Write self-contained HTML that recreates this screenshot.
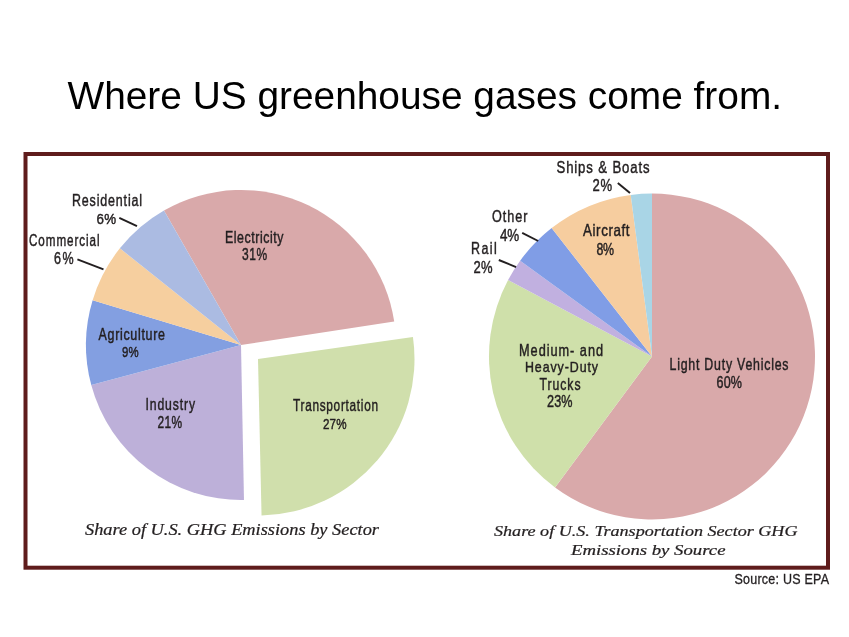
<!DOCTYPE html>
<html><head><meta charset="utf-8"><style>
html,body{margin:0;padding:0;background:#fff;}
svg{display:block;will-change:transform;}
text{white-space:pre;}
</style></head><body>
<svg width="849" height="637" viewBox="0 0 849 637">
<path d="M241.00,345.00 L163.97,210.50 A155,155 0 0 1 394.20,321.42 Z" fill="#d9a9aa"/>
<path d="M258.00,359.00 L412.94,336.95 A156.5,156.5 0 0 1 261.55,515.46 Z" fill="#d0dfac"/>
<path d="M241.00,345.00 L243.98,499.97 A155,155 0 0 1 91.28,385.12 Z" fill="#bdb0d9"/>
<path d="M241.00,345.00 L91.28,385.12 A155,155 0 0 1 92.62,300.20 Z" fill="#839fe1"/>
<path d="M241.00,345.00 L92.62,300.20 A155,155 0 0 1 119.86,248.30 Z" fill="#f6cf9f"/>
<path d="M241.00,345.00 L119.86,248.30 A155,155 0 0 1 163.97,210.50 Z" fill="#abbbe2"/>
<path d="M652.00,356.50 L652.00,193.50 A163,163 0 1 1 555.04,487.53 Z" fill="#d9a9aa"/>
<path d="M652.00,356.50 L555.04,487.53 A163,163 0 0 1 508.08,279.98 Z" fill="#cfe0aa"/>
<path d="M652.00,356.50 L508.08,279.98 A163,163 0 0 1 520.13,260.69 Z" fill="#c1b0e0"/>
<path d="M652.00,356.50 L520.13,260.69 A163,163 0 0 1 551.65,228.05 Z" fill="#809de6"/>
<path d="M652.00,356.50 L551.65,228.05 A163,163 0 0 1 630.72,194.89 Z" fill="#f6cd9f"/>
<path d="M652.00,356.50 L630.72,194.89 A163,163 0 0 1 652.00,193.50 Z" fill="#a9d5e6"/>
<line x1="119.3" y1="217.9" x2="137" y2="226.2" stroke="#231f20" stroke-width="1.9"/>
<line x1="77.4" y1="259.3" x2="103.5" y2="269.4" stroke="#231f20" stroke-width="1.9"/>
<line x1="617.8" y1="183" x2="630" y2="193" stroke="#231f20" stroke-width="1.9"/>
<line x1="522.2" y1="232.9" x2="538.2" y2="241" stroke="#231f20" stroke-width="1.9"/>
<line x1="498.8" y1="260" x2="516.1" y2="267.1" stroke="#231f20" stroke-width="1.9"/>
<rect x="25.5" y="154" width="802.5" height="413.7" fill="none" stroke="#5f1c1c" stroke-width="4"/>
<text x="67.50" y="108.60" font-family="Liberation Sans" font-style="normal" font-size="38.66" fill="#000000" textLength="714.53" lengthAdjust="spacingAndGlyphs">Where US greenhouse gases come from.</text>
<text transform="translate(72.00,205.80) scale(0.751,1)" font-family="Liberation Sans" font-style="normal" font-size="16.63" fill="#231f20" stroke="#231f20" stroke-width="0.45" textLength="93.26" lengthAdjust="spacing">Residential</text>
<text transform="translate(96.50,224.40) scale(0.883,1)" font-family="Liberation Sans" font-style="normal" font-size="15.12" fill="#231f20" stroke="#231f20" stroke-width="0.45" textLength="22.11" lengthAdjust="spacing">6%</text>
<text transform="translate(29.00,246.30) scale(0.714,1)" font-family="Liberation Sans" font-style="normal" font-size="16.33" fill="#231f20" stroke="#231f20" stroke-width="0.45" textLength="98.79" lengthAdjust="spacing">Commercial</text>
<text transform="translate(54.00,263.90) scale(0.804,1)" font-family="Liberation Sans" font-style="normal" font-size="15.57" fill="#231f20" stroke="#231f20" stroke-width="0.45" textLength="24.37" lengthAdjust="spacing">6%</text>
<text transform="translate(225.00,242.60) scale(0.771,1)" font-family="Liberation Sans" font-style="normal" font-size="16.02" fill="#231f20" stroke="#231f20" stroke-width="0.45" textLength="75.91" lengthAdjust="spacing">Electricity</text>
<text transform="translate(242.00,259.90) scale(0.728,1)" font-family="Liberation Sans" font-style="normal" font-size="16.48" fill="#231f20" stroke="#231f20" stroke-width="0.45" textLength="34.46" lengthAdjust="spacing">31%</text>
<text transform="translate(98.50,339.80) scale(0.794,1)" font-family="Liberation Sans" font-style="normal" font-size="15.72" fill="#231f20" stroke="#231f20" stroke-width="0.45" textLength="83.76" lengthAdjust="spacing">Agriculture</text>
<text transform="translate(122.00,357.10) scale(0.74,1)" font-family="Liberation Sans" font-style="normal" font-size="15.42" fill="#231f20" stroke="#231f20" stroke-width="0.45" textLength="22.50" lengthAdjust="spacing">9%</text>
<text transform="translate(145.50,410.30) scale(0.742,1)" font-family="Liberation Sans" font-style="normal" font-size="16.48" fill="#231f20" stroke="#231f20" stroke-width="0.45" textLength="66.74" lengthAdjust="spacing">Industry</text>
<text transform="translate(157.50,427.70) scale(0.76,1)" font-family="Liberation Sans" font-style="normal" font-size="15.72" fill="#231f20" stroke="#231f20" stroke-width="0.45" textLength="32.27" lengthAdjust="spacing">21%</text>
<text transform="translate(293.00,411.00) scale(0.693,1)" font-family="Liberation Sans" font-style="normal" font-size="17.08" fill="#231f20" stroke="#231f20" stroke-width="0.45" textLength="122.66" lengthAdjust="spacing">Transportation</text>
<text transform="translate(323.00,428.90) scale(0.762,1)" font-family="Liberation Sans" font-style="normal" font-size="15.27" fill="#231f20" stroke="#231f20" stroke-width="0.45" textLength="30.92" lengthAdjust="spacing">27%</text>
<text x="85.00" y="534.80" font-family="Liberation Serif" font-style="italic" font-size="15.88" fill="#231f20" stroke="#231f20" stroke-width="0.22" textLength="294.00" lengthAdjust="spacingAndGlyphs">Share of U.S. GHG Emissions by Sector</text>
<text transform="translate(556.50,172.50) scale(0.807,1)" font-family="Liberation Sans" font-style="normal" font-size="16.33" fill="#231f20" stroke="#231f20" stroke-width="0.45" textLength="115.26" lengthAdjust="spacing">Ships &amp; Boats</text>
<text transform="translate(592.50,191.30) scale(0.801,1)" font-family="Liberation Sans" font-style="normal" font-size="16.33" fill="#231f20" stroke="#231f20" stroke-width="0.45" textLength="24.39" lengthAdjust="spacing">2%</text>
<text transform="translate(583.00,236.30) scale(0.812,1)" font-family="Liberation Sans" font-style="normal" font-size="16.48" fill="#231f20" stroke="#231f20" stroke-width="0.45" textLength="57.31" lengthAdjust="spacing">Aircraft</text>
<text transform="translate(596.50,254.60) scale(0.788,1)" font-family="Liberation Sans" font-style="normal" font-size="15.72" fill="#231f20" stroke="#231f20" stroke-width="0.45" textLength="22.35" lengthAdjust="spacing">8%</text>
<text transform="translate(492.00,222.20) scale(0.774,1)" font-family="Liberation Sans" font-style="normal" font-size="16.33" fill="#231f20" stroke="#231f20" stroke-width="0.45" textLength="45.91" lengthAdjust="spacing">Other</text>
<text transform="translate(500.00,240.60) scale(0.822,1)" font-family="Liberation Sans" font-style="normal" font-size="16.33" fill="#231f20" stroke="#231f20" stroke-width="0.45" textLength="23.21" lengthAdjust="spacing">4%</text>
<text transform="translate(471.00,254.30) scale(0.765,1)" font-family="Liberation Sans" font-style="normal" font-size="16.33" fill="#231f20" stroke="#231f20" stroke-width="0.45" textLength="33.58" lengthAdjust="spacing">Rail</text>
<text transform="translate(473.50,273.30) scale(0.789,1)" font-family="Liberation Sans" font-style="normal" font-size="16.48" fill="#231f20" stroke="#231f20" stroke-width="0.45" textLength="24.11" lengthAdjust="spacing">2%</text>
<text transform="translate(519.00,355.70) scale(0.788,1)" font-family="Liberation Sans" font-style="normal" font-size="16.17" fill="#231f20" stroke="#231f20" stroke-width="0.45" textLength="106.64" lengthAdjust="spacing">Medium- and</text>
<text transform="translate(525.00,371.50) scale(0.805,1)" font-family="Liberation Sans" font-style="normal" font-size="15.42" fill="#231f20" stroke="#231f20" stroke-width="0.45" textLength="90.70" lengthAdjust="spacing">Heavy-Duty</text>
<text transform="translate(539.50,389.70) scale(0.729,1)" font-family="Liberation Sans" font-style="normal" font-size="16.78" fill="#231f20" stroke="#231f20" stroke-width="0.45" textLength="56.26" lengthAdjust="spacing">Trucks</text>
<text transform="translate(547.00,407.00) scale(0.774,1)" font-family="Liberation Sans" font-style="normal" font-size="16.33" fill="#231f20" stroke="#231f20" stroke-width="0.45" textLength="33.02" lengthAdjust="spacing">23%</text>
<text transform="translate(669.50,370.10) scale(0.779,1)" font-family="Liberation Sans" font-style="normal" font-size="15.87" fill="#231f20" stroke="#231f20" stroke-width="0.45" textLength="152.79" lengthAdjust="spacing">Light Duty Vehicles</text>
<text transform="translate(716.50,387.60) scale(0.798,1)" font-family="Liberation Sans" font-style="normal" font-size="15.72" fill="#231f20" stroke="#231f20" stroke-width="0.45" textLength="31.96" lengthAdjust="spacing">60%</text>
<text x="494.00" y="535.70" font-family="Liberation Serif" font-style="italic" font-size="14.97" fill="#231f20" stroke="#231f20" stroke-width="0.22" textLength="303.51" lengthAdjust="spacingAndGlyphs">Share of U.S. Transportation Sector GHG</text>
<text x="571.00" y="554.60" font-family="Liberation Serif" font-style="italic" font-size="14.36" fill="#231f20" stroke="#231f20" stroke-width="0.22" textLength="154.50" lengthAdjust="spacingAndGlyphs">Emissions by Source</text>
<text transform="translate(734.50,584.40) scale(0.9,1)" font-family="Liberation Sans" font-style="normal" font-size="13.91" fill="#231f20" stroke="#231f20" stroke-width="0.3" textLength="105.02" lengthAdjust="spacing">Source: US EPA</text>
</svg>
</body></html>
